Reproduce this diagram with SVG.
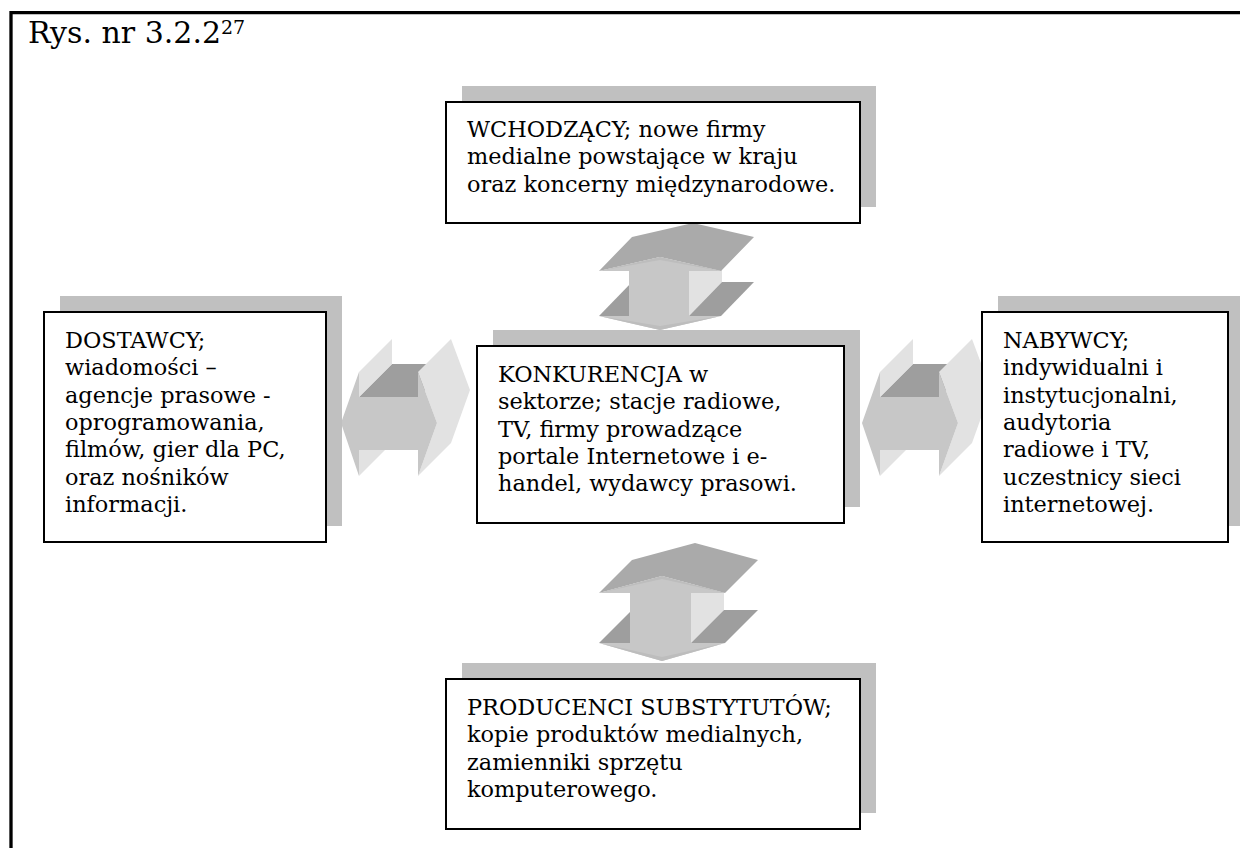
<svg xmlns="http://www.w3.org/2000/svg" width="1240" height="848" viewBox="0 0 1240 848">
<style>
.frame{fill:none;stroke:#000;stroke-width:3.3}
.shadow{fill:#c0c0c0}
.box{fill:#fff;stroke:#000;stroke-width:2}
.t{font-family:"DejaVu Serif","Liberation Serif",serif;font-size:22.4px;fill:#000}
.title{font-family:"DejaVu Serif","Liberation Serif",serif;font-size:30px;fill:#000}
.front{fill:#c7c7c7}
.chev{fill:#bdbdbd}
.topf{fill:#aaaaaa}
.dark{fill:#9e9e9e}
.side{fill:#e2e2e2}
</style>
<rect width="1240" height="848" fill="#fff"/>
<path class="frame" d="M11,848 V12.7 H1240"/>
<text class="title" x="28" y="43">Rys. nr 3.2.2<tspan font-size="19" dy="-9">27</tspan></text>

<g id="connectors">
  <g id="arrow-top">
    <polygon class="side" points="689,271 722,237 722,282 689,316"/>
    <polygon class="dark" points="599,316 629,316 662,282 632,282"/>
    <polygon class="dark" points="689,316 721,316 754,282 722,282"/>
    <polygon class="topf" points="599,271 660,257 721,271 754,237 693,223 632,237"/>
    <polygon class="front" points="660,257 721,271 689,271 689,316 721,316 660,330 599,316 629,316 629,271 599,271"/>
    <polygon class="chev" points="599,271 660,257 721,271 660,260"/>
    <polygon class="chev" points="599,316 660,330 721,316 660,326"/>
  </g>
  <g id="arrow-bottom">
    <polygon class="side" points="691,593 724,560 724,610 691,643"/>
    <polygon class="dark" points="599,643 630,643 663,610 632,610"/>
    <polygon class="dark" points="691,643 725,643 758,610 724,610"/>
    <polygon class="topf" points="599,593 662,576 725,593 758,560 695,543 632,560"/>
    <polygon class="front" points="662,576 725,593 691,593 691,643 725,643 662,661 599,643 630,643 630,593 599,593"/>
    <polygon class="chev" points="599,593 662,576 725,593 662,579"/>
    <polygon class="chev" points="599,643 662,661 725,643 662,657"/>
  </g>
  <g id="arrow-left">
    <polygon class="dark" points="359,397 418,397 451,364 392,364"/>
    <polygon class="side" points="359,372 392,339 392,364 359,397"/>
    <polygon class="side" points="359,450 392,417 392,443 359,476"/>
    <polygon class="side" points="418,372 437,423 418,476 451,443 470,390 451,339"/>
    <polygon class="front" points="341,423 359,372 359,397 418,397 418,372 437,423 418,476 418,450 359,450 359,476"/>
  </g>
  <g id="arrow-right">
    <polygon class="dark" points="880,397 939,397 972,364 913,364"/>
    <polygon class="side" points="880,372 913,339 913,364 880,397"/>
    <polygon class="side" points="880,450 913,417 913,443 880,476"/>
    <polygon class="side" points="939,372 958,423 939,476 972,443 991,390 972,339"/>
    <polygon class="front" points="862,423 880,372 880,397 939,397 939,372 958,423 939,476 939,450 880,450 880,476"/>
  </g>
</g>

<g id="node-wchodzacy">
  <rect class="shadow" x="462" y="86" width="414" height="121"/>
  <rect class="box" x="446" y="102" width="414" height="121"/>
  <text class="t"><tspan x="467" y="137">WCHODZĄCY; nowe firmy</tspan><tspan x="467" y="164.3">medialne powstające w kraju</tspan><tspan x="467" y="191.6">oraz koncerny międzynarodowe.</tspan></text>
</g>

<g id="node-dostawcy">
  <rect class="shadow" x="60" y="296" width="282" height="230"/>
  <rect class="box" x="44" y="312" width="282" height="230"/>
  <text class="t"><tspan x="65" y="348">DOSTAWCY;</tspan><tspan x="65" y="375.3">wiadomości –</tspan><tspan x="65" y="402.6">agencje prasowe -</tspan><tspan x="65" y="429.9">oprogramowania,</tspan><tspan x="65" y="457.2">filmów, gier dla PC,</tspan><tspan x="65" y="484.5">oraz nośników</tspan><tspan x="65" y="511.8">informacji.</tspan></text>
</g>

<g id="node-konkurencja">
  <rect class="shadow" x="493" y="330" width="367" height="177"/>
  <rect class="box" x="477" y="346" width="367" height="177"/>
  <text class="t"><tspan x="498" y="382">KONKURENCJA w</tspan><tspan x="498" y="409.3">sektorze; stacje radiowe,</tspan><tspan x="498" y="436.6">TV, firmy prowadzące</tspan><tspan x="498" y="463.9">portale Internetowe i e-</tspan><tspan x="498" y="491.2">handel, wydawcy prasowi.</tspan></text>
</g>

<g id="node-nabywcy">
  <rect class="shadow" x="998" y="296" width="246" height="230"/>
  <rect class="box" x="982" y="312" width="246" height="230"/>
  <text class="t"><tspan x="1003" y="348">NABYWCY;</tspan><tspan x="1003" y="375.3">indywidualni i</tspan><tspan x="1003" y="402.6">instytucjonalni,</tspan><tspan x="1003" y="429.9">audytoria</tspan><tspan x="1003" y="457.2">radiowe i TV,</tspan><tspan x="1003" y="484.5">uczestnicy sieci</tspan><tspan x="1003" y="511.8">internetowej.</tspan></text>
</g>

<g id="node-producenci">
  <rect class="shadow" x="462" y="663" width="414" height="150"/>
  <rect class="box" x="446" y="679" width="414" height="150"/>
  <text class="t"><tspan x="467" y="715">PRODUCENCI SUBSTYTUTÓW;</tspan><tspan x="467" y="742.3">kopie produktów medialnych,</tspan><tspan x="467" y="769.6">zamienniki sprzętu</tspan><tspan x="467" y="796.9">komputerowego.</tspan></text>
</g>
</svg>
